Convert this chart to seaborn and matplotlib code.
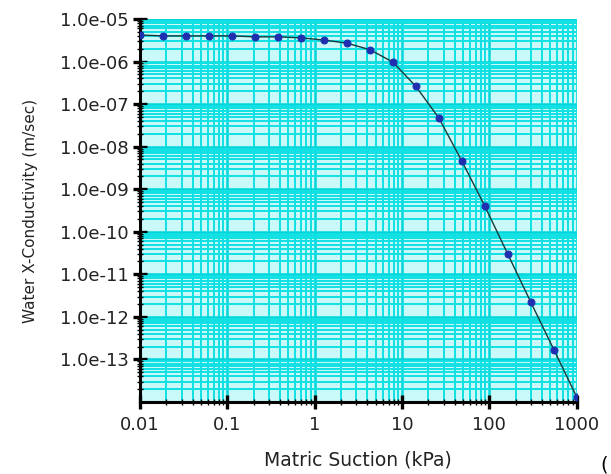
import numpy as np
import seaborn as sns
import matplotlib.pyplot as plt
from matplotlib.ticker import LogLocator, FixedLocator, NullFormatter

# Matric suction (kPa) and water conductivity (m/sec)
suction = [0.01, 0.0184, 0.0336, 0.0616, 0.113, 0.207, 0.379, 0.695, 1.27, 2.34,
           4.28, 7.85, 14.4, 26.4, 48.3, 88.6, 162, 298, 546, 1000]
conductivity = [4.2e-6, 4.0e-6, 4.0e-6, 4.0e-6, 4.0e-6, 3.8e-6, 3.8e-6, 3.6e-6, 3.2e-6, 2.7e-6,
                1.9e-6, 9.7e-7, 2.6e-7, 4.7e-8, 4.6e-9, 4.0e-10, 3.0e-11, 2.2e-12, 1.7e-13, 1.3e-14]

x_ticks = [0.01, 0.1, 1, 10, 100, 1000]
x_labels = ['0.01', '0.1', '1', '10', '100', '1000']
y_ticks = [1e-5, 1e-6, 1e-7, 1e-8, 1e-9, 1e-10, 1e-11, 1e-12, 1e-13]
y_labels = ['1.0e-05', '1.0e-06', '1.0e-07', '1.0e-08', '1.0e-09',
            '1.0e-10', '1.0e-11', '1.0e-12', '1.0e-13']

sns.set_style('white')
plt.rcParams['font.family'] = ['DejaVu Sans']

fig = plt.figure(figsize=(6.11, 4.74), dpi=100)
ax = fig.add_axes([0.229, 0.152, 0.715, 0.808])
ax.set_facecolor('#c9f9f9')

ax.set_xscale('log')
ax.set_yscale('log')
ax.set_xlim(0.01, 1000)
ax.set_ylim(1e-14, 1e-5)

# dense cyan grid
ax.xaxis.set_minor_locator(LogLocator(base=10, subs=np.arange(2, 10), numticks=20))
ax.yaxis.set_minor_locator(LogLocator(base=10, subs=np.arange(2, 10), numticks=20))
ax.xaxis.set_minor_formatter(NullFormatter())
ax.yaxis.set_minor_formatter(NullFormatter())
ax.grid(True, which='major', color='#00d6da', linewidth=1.8)
ax.grid(True, which='minor', color='#10e0e4', linewidth=1.4)
ax.set_axisbelow(True)

sns.lineplot(x=suction, y=conductivity, ax=ax, color='#1a3a3a', linewidth=1.0,
             marker='o', markersize=5, markerfacecolor='#1f2fb0',
             markeredgecolor='#1f2fb0', zorder=5)

ax.xaxis.set_major_locator(FixedLocator(x_ticks))
ax.set_xticklabels(x_labels)
ax.yaxis.set_major_locator(FixedLocator(y_ticks))
ax.set_yticklabels(y_labels)

for s in ['top', 'right']:
    ax.spines[s].set_visible(False)
for s in ['left', 'bottom']:
    ax.spines[s].set_color('black')
    ax.spines[s].set_linewidth(2.2)

ax.tick_params(which='major', direction='inout', length=10, width=2.4, colors='black',
               labelsize=13, labelcolor='#222222', left=True, bottom=True)
ax.tick_params(which='minor', direction='inout', length=5, width=1.0, colors='black',
               left=True, bottom=True)
ax.tick_params(axis='x', pad=5)
ax.tick_params(axis='y', pad=3)

ax.set_xlabel('Matric Suction (kPa)', fontsize=13.5, color='#222222', labelpad=12)
ax.set_ylabel('Water X-Conductivity (m/sec)', fontsize=11, color='#222222', labelpad=16)

fig.text(0.982, 0.008, '(', fontsize=14, color='black')

fig.savefig('out.png', dpi=100)
